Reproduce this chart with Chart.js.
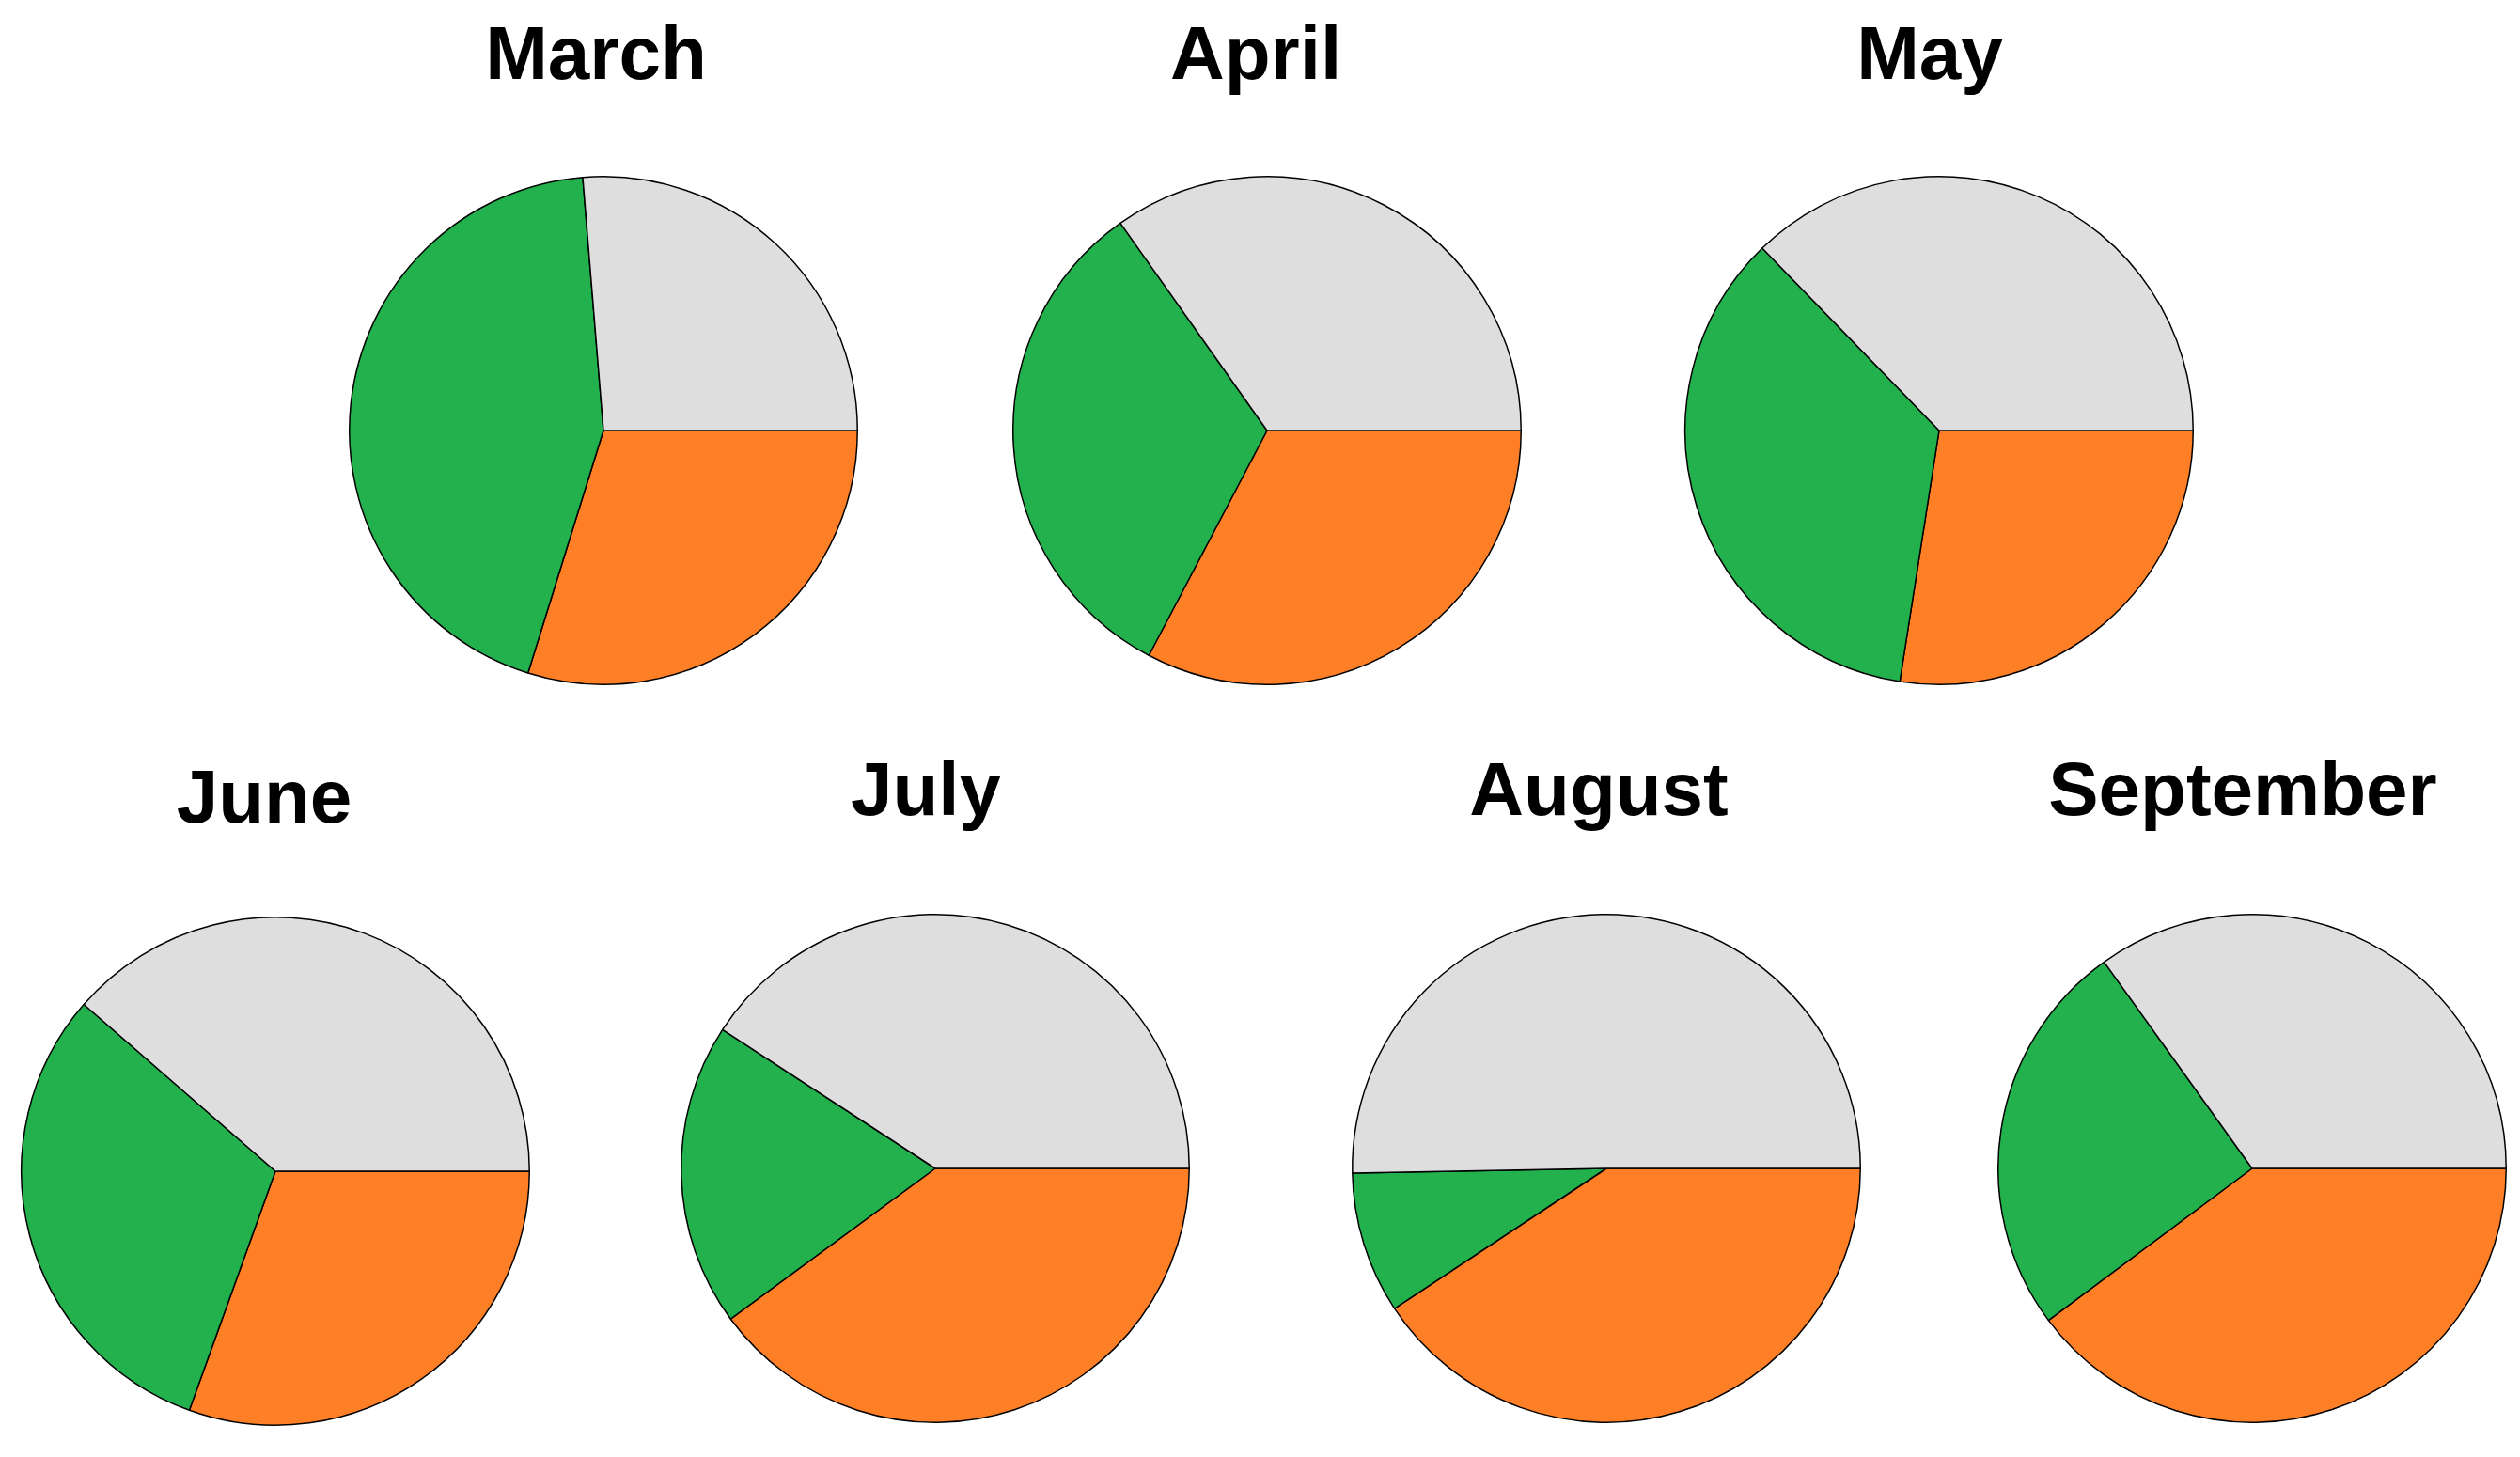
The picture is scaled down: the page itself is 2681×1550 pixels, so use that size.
<!DOCTYPE html>
<html><head><meta charset="utf-8">
<script src="https://cdn.jsdelivr.net/npm/chart.js@4/dist/chart.umd.min.js"></script>
<style>
body{margin:0;background:#fff;width:2681px;height:1550px;position:relative;overflow:hidden;font-family:"Liberation Sans",Arial,sans-serif}
.t{position:absolute;font-weight:bold;font-size:80px;transform:translate(-50%,-50%);white-space:nowrap;color:#000}
.p{position:absolute;width:546px;height:546px}
</style></head><body>
<script>
const months=["March","April","May","June","July","August","September"];
// shares in percent, per month
const grey  =[26.3,34.8,37.3,38.6,40.8,50.3,34.9];
const green =[43.9,32.5,35.3,30.9,19.3, 9.0,25.3];
const orange=[29.8,32.7,27.5,30.5,39.9,40.7,39.8];
const colors={grey:"#DEDEDE",green:"#22B14C",orange:"#FF7F27"};
const centers=[[642,458],[1348,458],[2063,458],[293,1246],[995,1243],[1709,1243],[2396,1243]];
const titleY=[57,57,57,848,840,840,840];
const titleDX=[-8,-12,-10,-12,-10,-8,-10];
months.forEach((m,i)=>{
  const [cx,cy]=centers[i];
  const t=document.createElement('div');t.className='t';t.textContent=m;
  t.style.left=(cx+titleDX[i])+'px';t.style.top=titleY[i]+'px';document.body.appendChild(t);
  const d=document.createElement('div');d.className='p';
  d.style.left=(cx-273)+'px';d.style.top=(cy-273)+'px';
  const c=document.createElement('canvas');d.appendChild(c);document.body.appendChild(d);
  new Chart(c,{type:'pie',data:{labels:['orange','green','grey'],datasets:[{
    data:[orange[i],green[i],grey[i]],
    backgroundColor:[colors.orange,colors.green,colors.grey],
    borderColor:'#000',borderWidth:1.5}]},
    options:{responsive:true,maintainAspectRatio:false,animation:false,rotation:90,
      layout:{padding:2},plugins:{legend:{display:false},tooltip:{enabled:false}}}});
});
</script></body></html>
